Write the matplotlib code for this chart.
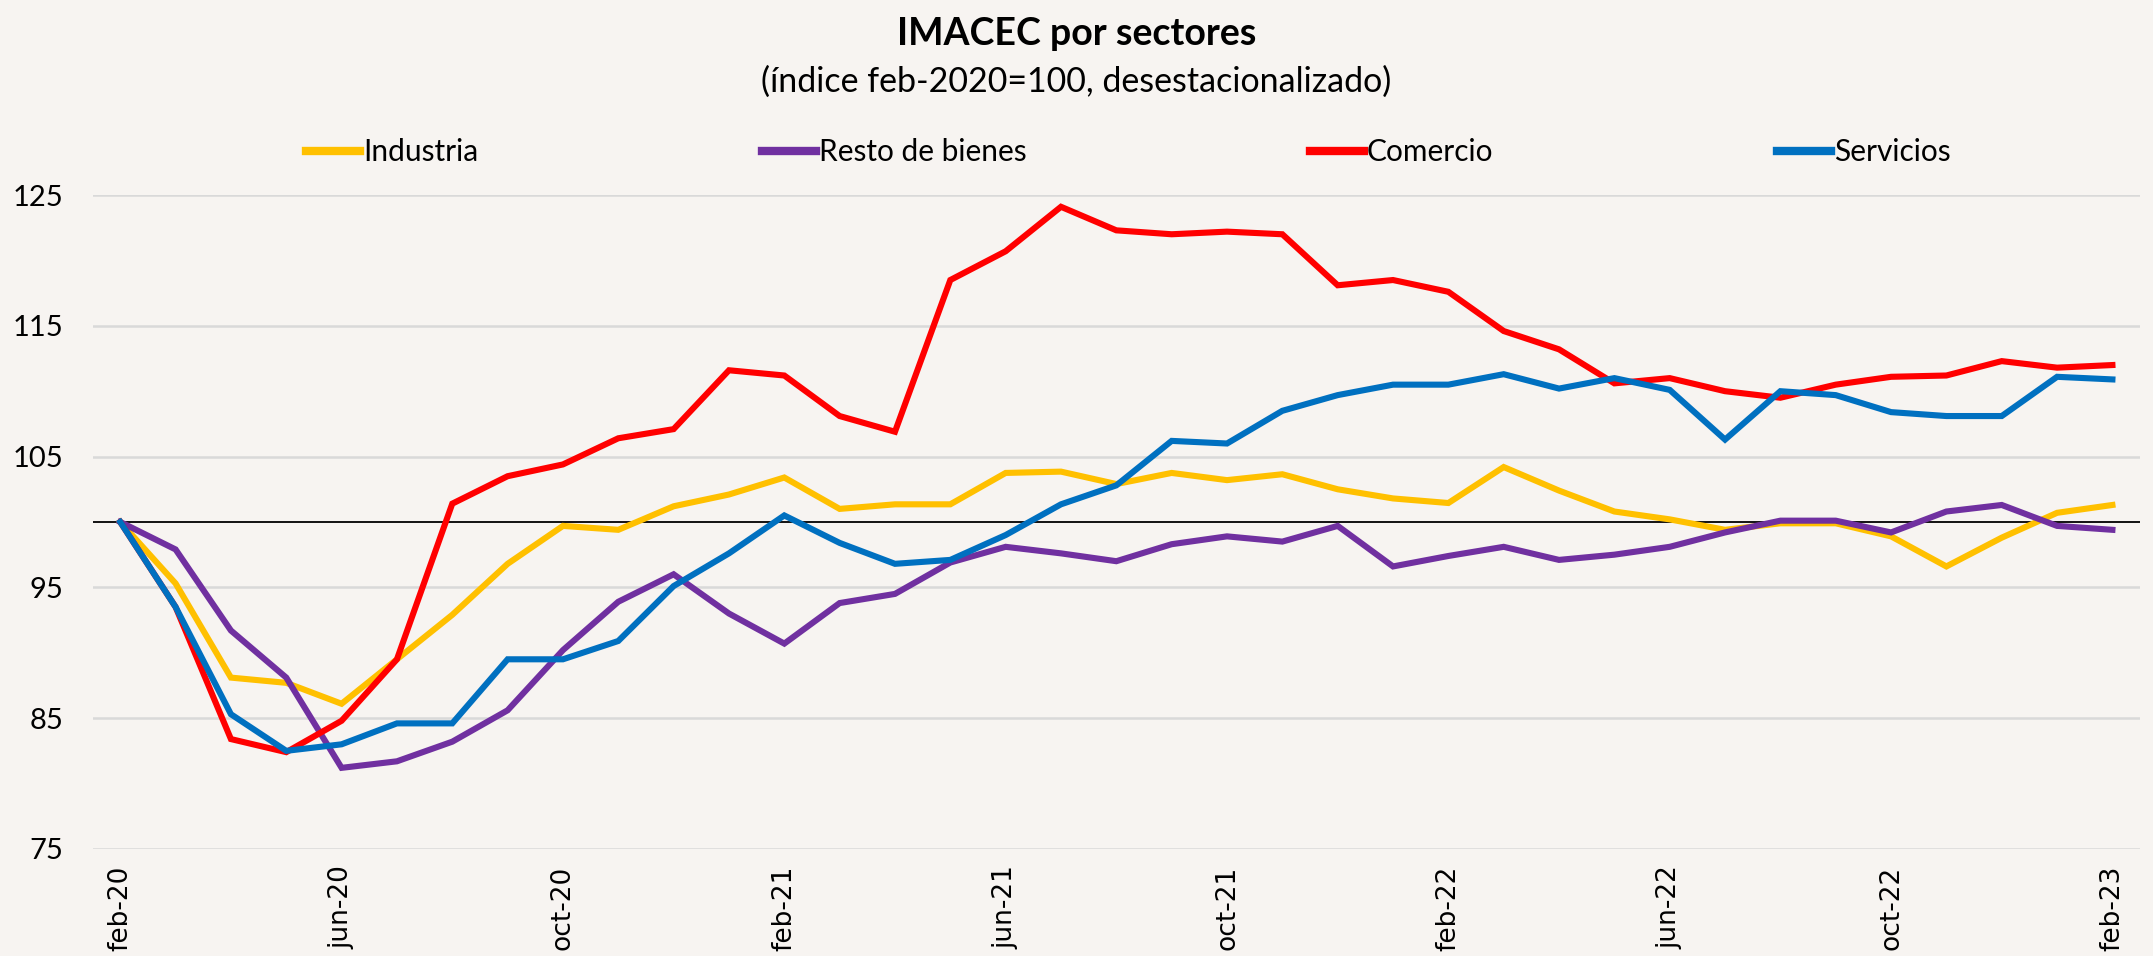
import numpy as np
import matplotlib.pyplot as plt
from matplotlib.lines import Line2D

# meses feb-20 .. feb-23
months = ['ene', 'feb', 'mar', 'abr', 'may', 'jun', 'jul', 'ago', 'sep', 'oct', 'nov', 'dic']
labels = []
for k in range(37):
    m = (1 + k) % 12
    y = 20 + (1 + k) // 12
    labels.append('%s-%d' % (months[m], y))

industria = [100, 95.3, 88.1, 87.7, 86.1, 89.5, 92.9, 96.8, 99.7, 99.4, 101.2, 102.1, 103.4,
             101.0, 101.35, 101.35, 103.75, 103.85, 102.9, 103.75, 103.2, 103.65, 102.5, 101.8, 101.45,
             104.2, 102.4, 100.8, 100.2, 99.4, 99.9, 99.9, 98.9, 96.6, 98.8, 100.7, 101.3]
resto = [100, 97.9, 91.7, 88.1, 81.2, 81.7, 83.2, 85.6, 90.2, 93.9, 96.0, 93.0, 90.7,
         93.8, 94.5, 96.9, 98.1, 97.6, 97.0, 98.3, 98.9, 98.5, 99.7, 96.6, 97.4,
         98.1, 97.1, 97.5, 98.1, 99.2, 100.1, 100.1, 99.2, 100.8, 101.3, 99.7, 99.4]
comercio = [100, 93.5, 83.4, 82.4, 84.8, 89.5, 101.4, 103.5, 104.4, 106.4, 107.1, 111.6, 111.2,
            108.1, 106.9, 118.5, 120.7, 124.1, 122.3, 122.0, 122.2, 122.0, 118.1, 118.5, 117.6,
            114.6, 113.2, 110.6, 111.0, 110.0, 109.5, 110.5, 111.1, 111.2, 112.3, 111.8, 112.0]
servicios = [100, 93.5, 85.3, 82.5, 83.0, 84.6, 84.6, 89.5, 89.5, 90.9, 95.1, 97.6, 100.5,
             98.4, 96.8, 97.1, 99.0, 101.35, 102.8, 106.2, 106.0, 108.5, 109.7, 110.5, 110.5,
             111.3, 110.2, 111.0, 110.1, 106.3, 110.0, 109.7, 108.4, 108.1, 108.1, 111.1, 110.9]

series = [('Industria', industria, '#FFC000'),
          ('Resto de bienes', resto, '#7030A0'),
          ('Comercio', comercio, '#FF0000'),
          ('Servicios', servicios, '#0070C0')]

bg = '#F7F4F1'
txt_font = ['Lato', 'DejaVu Sans']

fig = plt.figure(figsize=(21.53, 9.56), dpi=100, facecolor=bg)
ax = fig.add_axes([0.043, 0.112, 0.951, 0.684], facecolor=bg)

x = np.arange(len(labels))
ax.axhline(100, color='black', lw=1.3, zorder=2)
handles = []
for name, vals, col in series:
    ax.plot(x, vals, color=col, lw=4.4, zorder=3, solid_joinstyle='miter')
    handles.append(Line2D([], [], color=col, lw=6, label=name))

ax.set_xlim(-0.5, 36.5)
ax.set_ylim(75, 125)
ax.set_yticks([75, 85, 95, 105, 115, 125])
ax.yaxis.grid(True, color='#D9D9D9', lw=1.8)
ax.set_axisbelow(True)
ax.set_xticks(x[::4])
ax.set_xticklabels(labels[::4], rotation=90, fontsize=19, family='DejaVu Sans')
for t in ax.get_yticklabels():
    t.set_family(txt_font)
    t.set_fontsize(21)
ax.tick_params(axis='both', length=0)
ax.tick_params(axis='y', pad=21)
ax.tick_params(axis='x', pad=12)
for s in ax.spines.values():
    s.set_visible(False)

fig.text(0.5, 0.964, 'IMACEC por sectores', ha='center', va='center',
         fontsize=27, fontweight='bold', family=txt_font)
fig.text(0.5, 0.914, '(índice feb-2020=100, desestacionalizado)', ha='center', va='center',
         fontsize=24.5, family=txt_font)

fig.legend(handles=handles, loc='center', bbox_to_anchor=(0.524, 0.841), ncol=4,
           frameon=False, handlelength=1.8, handletextpad=0.1, columnspacing=9.5,
           prop={'family': txt_font, 'size': 21.5})

fig.savefig('out.png', dpi=100, facecolor=bg)
